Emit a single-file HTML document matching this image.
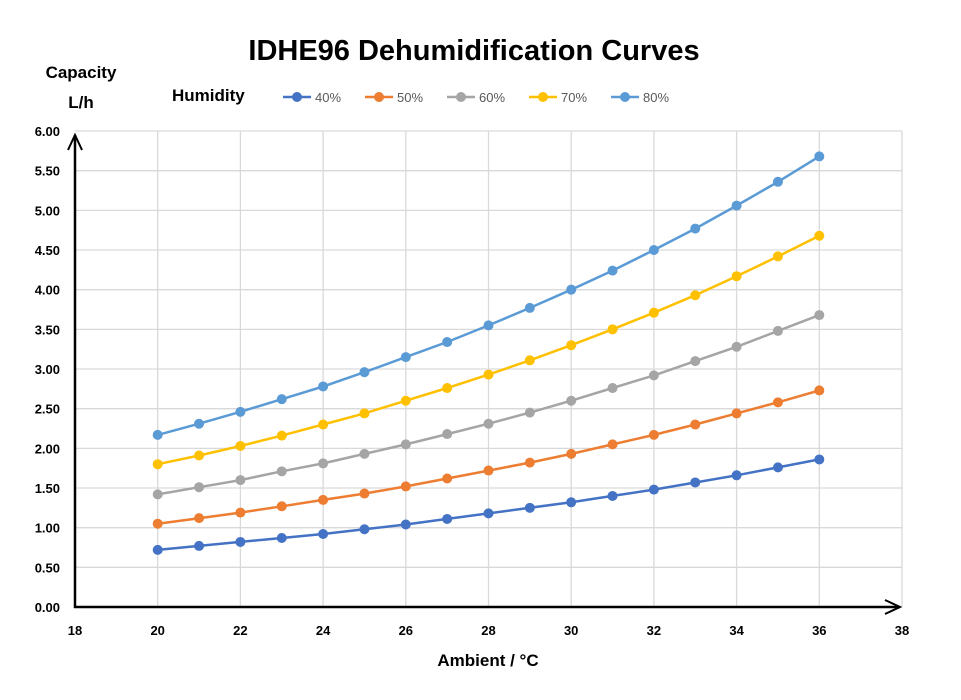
<!DOCTYPE html>
<html><head><meta charset="utf-8"><style>
html,body{margin:0;padding:0;background:#fff;}
svg{display:block;font-family:"Liberation Sans",sans-serif;}
</style></head><body>
<svg id="c" width="961" height="700" viewBox="0 0 961 700" xmlns="http://www.w3.org/2000/svg">
<text x="474" y="60" text-anchor="middle" font-size="29" font-weight="bold" fill="#000">IDHE96 Dehumidification Curves</text>
<text x="81" y="78" text-anchor="middle" font-size="17" font-weight="bold">Capacity</text>
<text x="81" y="108" text-anchor="middle" font-size="17" font-weight="bold">L/h</text>
<text x="172" y="101" font-size="17" font-weight="bold">Humidity</text>
<text x="488" y="666" text-anchor="middle" font-size="17" font-weight="bold">Ambient / °C</text>
<g id="grid"></g>
<g id="series"></g>
<g id="legend"></g>
</svg>
<script>
const NS="http://www.w3.org/2000/svg";
const X=v=>75+(v-18)*41.35, Y=v=>607-v*79.33;
function el(p,t,a,txt){const e=document.createElementNS(NS,t);for(const k in a)e.setAttribute(k,a[k]);if(txt!==undefined)e.textContent=txt;p.appendChild(e);return e;}
const g=document.getElementById('grid');
for(let i=1;i<=12;i++){const y=Y(i*0.5);el(g,'line',{x1:75,x2:902,y1:y,y2:y,stroke:'#d9d9d9','stroke-width':1.3});}
for(let x=20;x<=38;x+=2){el(g,'line',{x1:X(x),x2:X(x),y1:131,y2:607,stroke:'#d9d9d9','stroke-width':1.3});}
for(let i=0;i<=12;i++){el(g,'text',{x:60,y:Y(i*0.5)+5,'text-anchor':'end','font-size':13,'font-weight':'bold'},(i*0.5).toFixed(2));}
for(let x=18;x<=38;x+=2){el(g,'text',{x:X(x),y:635,'text-anchor':'middle','font-size':13,'font-weight':'bold'},x);}
el(g,'line',{x1:75,x2:75,y1:608,y2:135,stroke:'#000','stroke-width':2.5});
el(g,'line',{x1:74,x2:900,y1:607,y2:607,stroke:'#000','stroke-width':2.5});
el(g,'polyline',{points:'68,150 75,135 82,150',fill:'none',stroke:'#000','stroke-width':2});
el(g,'polyline',{points:'885,600 900,607 885,614',fill:'none',stroke:'#000','stroke-width':2});
const data=[
['#4472c4','40%',[0.72,0.77,0.82,0.87,0.92,0.98,1.04,1.11,1.18,1.25,1.32,1.40,1.48,1.57,1.66,1.76,1.86]],
['#ed7d31','50%',[1.05,1.12,1.19,1.27,1.35,1.43,1.52,1.62,1.72,1.82,1.93,2.05,2.17,2.30,2.44,2.58,2.73]],
['#a5a5a5','60%',[1.42,1.51,1.60,1.71,1.81,1.93,2.05,2.18,2.31,2.45,2.60,2.76,2.92,3.10,3.28,3.48,3.68]],
['#ffc000','70%',[1.80,1.91,2.03,2.16,2.30,2.44,2.60,2.76,2.93,3.11,3.30,3.50,3.71,3.93,4.17,4.42,4.68]],
['#5b9bd5','80%',[2.17,2.31,2.46,2.62,2.78,2.96,3.15,3.34,3.55,3.77,4.00,4.24,4.50,4.77,5.06,5.36,5.68]]];
const s=document.getElementById('series'),L=document.getElementById('legend');
const lx=[283,365,447,529,611];
data.forEach((d,k)=>{
 const pts=d[2].map((v,i)=>X(20+i).toFixed(1)+','+Y(v).toFixed(1)).join(' ');
 el(s,'polyline',{points:pts,fill:'none',stroke:d[0],'stroke-width':2.5});
 d[2].forEach((v,i)=>el(s,'circle',{cx:X(20+i),cy:Y(v),r:5,fill:d[0]}));
 const x=lx[k];
 el(L,'line',{x1:x-73+73,x2:x+28,y1:97,y2:97,stroke:d[0],'stroke-width':2.5});
 el(L,'circle',{cx:x+14,cy:97,r:5,fill:d[0]});
 el(L,'text',{x:x+32,y:102,'font-size':13,fill:'#595959'},d[1]);
});
</script>
</body></html>
